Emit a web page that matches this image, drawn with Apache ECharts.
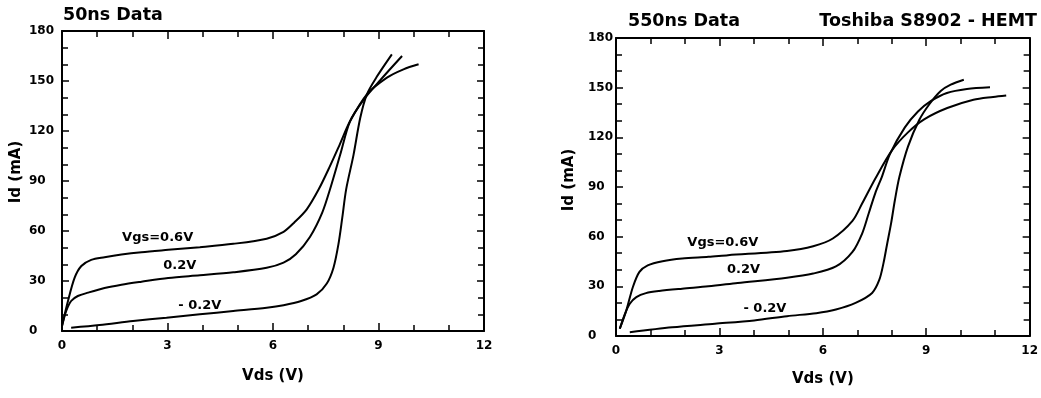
<!DOCTYPE html>
<html>
<head>
<meta charset="utf-8">
<script src="https://cdn.jsdelivr.net/npm/echarts@6/dist/echarts.min.js"></script>
<style>
html,body{margin:0;padding:0;background:#fff;}
#c{width:1041px;height:398px;}
</style>
</head>
<body>
<div id="c"></div>
<script>
// ---- Data (Vds in V, Id in mA) ----
var xTickLabels = [0, 3, 6, 9, 12];
var yTickLabels = [0, 30, 60, 90, 120, 150, 180];

// 50ns data (left panel)
var left06 = [[0,3],[0.17,18],[0.36,32],[0.55,39],[0.83,42.7],[1.21,44.3],[1.69,45.9],[2.26,47.3],[3.02,48.7],[3.92,50.3],[4.87,52.3],[5.82,55.4],[6.3,59.5],[6.6,65],[6.96,73],[7.3,85],[7.6,98],[7.9,112],[8.19,125.8],[8.67,142],[9.24,152],[9.71,157],[10.14,160]];
var left02 = [[0,3],[0.12,12],[0.26,18],[0.45,21],[0.74,23],[1.21,25.8],[1.69,27.8],[2.26,29.6],[3.02,31.8],[3.92,33.4],[4.87,35.2],[5.82,37.9],[6.3,41],[6.65,46],[7.05,56.4],[7.4,71],[7.65,87],[7.91,105.7],[8.19,125.8],[8.57,138.5],[9.05,150.5],[9.67,165]];
var leftM02 = [[0.26,2],[1.07,3.6],[2.02,6],[2.97,8],[3.92,10],[4.87,12],[5.82,14],[6.3,15.5],[6.8,18],[7.24,22],[7.53,28.5],[7.72,38],[7.86,52],[7.97,68],[8.08,85],[8.29,105.7],[8.48,127.8],[8.67,142],[8.95,152.5],[9.38,166]];

// 550ns data (right panel)
var right06 = [[0.11,4.4],[0.3,15.5],[0.49,29.6],[0.68,38.7],[0.92,42.7],[1.35,45.2],[1.92,46.8],[2.68,47.8],[3.25,48.8],[4.96,51.4],[5.72,54.2],[6.29,58.9],[6.86,69.5],[7.14,80],[7.52,95],[8.0,112],[8.47,123],[8.95,131],[9.61,137.7],[10.37,142.7],[10.94,144.4],[11.32,145.3]];
var right02 = [[0.11,4.4],[0.26,13.4],[0.4,19.5],[0.59,23.5],[0.87,25.9],[1.25,27.2],[1.92,28.6],[2.68,30],[3.53,32],[4.96,35.2],[5.72,37.7],[6.38,42],[6.86,50.8],[7.14,61.9],[7.33,74],[7.52,86.2],[7.71,96],[7.95,110],[8.38,126],[8.76,135.6],[9.14,142],[9.6,146.8],[10.18,149.2],[10.85,150.2]];
var rightM02 = [[0.4,2.3],[1.63,5.3],[2.87,7.4],[4.01,9.4],[4.96,12],[5.81,13.8],[6.38,16],[6.95,20],[7.43,26],[7.64,34],[7.76,44],[7.86,55],[7.98,68],[8.09,82],[8.22,96],[8.47,114.4],[8.8,130.6],[9.09,140],[9.42,148],[9.71,151.8],[10.09,154.8]];

// curve annotations: [text, Vds, Id]
var leftNotes = [["Vgs=0.6V", 2.72, 56.2], ["0.2V", 3.35, 39.3], ["- 0.2V", 3.92, 15.1]];
var rightNotes = [["Vgs=0.6V", 3.1, 56.7], ["0.2V", 3.7, 40.3], ["- 0.2V", 4.32, 16.7]];

var panelTitles = ["50ns Data", "550ns Data"];
var deviceTitle = "Toshiba S8902 - HEMT";
var xName = "Vds (V)";
var yName = "Id (mA)";

// ---- Chart ----
var FONT = '"DejaVu Sans", sans-serif';
var chart = echarts.init(document.getElementById('c'), null, {renderer: 'canvas'});

function xAxes(g, gap) {
  var common = {
    gridIndex: g, type: 'value',
    min: xTickLabels[0], max: xTickLabels[xTickLabels.length - 1],
    interval: xTickLabels[1] - xTickLabels[0],
    axisLine: {show: true, onZero: false, lineStyle: {color: '#000', width: 2}},
    axisTick: {show: true, inside: true, length: 8, lineStyle: {color: '#000', width: 1.5}},
    minorTick: {show: true, splitNumber: 3, length: 6, lineStyle: {color: '#000', width: 1.5}},
    splitLine: {show: false}, minorSplitLine: {show: false}
  };
  var bottom = Object.assign({}, common, {
    position: 'bottom',
    name: xName, nameLocation: 'middle', nameGap: gap,
    nameTextStyle: {fontFamily: FONT, fontWeight: 'bold', fontSize: 15, color: '#000'},
    axisLabel: {show: true, margin: 9, fontFamily: FONT, fontWeight: 'bold', fontSize: 12, color: '#000'}
  });
  var top = Object.assign({}, common, {position: 'top', axisLabel: {show: false}});
  return [bottom, top];
}
function yAxes(g, margin) {
  var common = {
    gridIndex: g, type: 'value',
    min: yTickLabels[0], max: yTickLabels[yTickLabels.length - 1],
    interval: yTickLabels[1] - yTickLabels[0],
    axisLine: {show: true, onZero: false, lineStyle: {color: '#000', width: 2}},
    axisTick: {show: true, inside: true, length: 7, lineStyle: {color: '#000', width: 1.5}},
    minorTick: {show: true, splitNumber: 3, length: 6, lineStyle: {color: '#000', width: 1.5}},
    splitLine: {show: false}, minorSplitLine: {show: false}
  };
  var left = Object.assign({}, common, {
    position: 'left',
    axisLabel: {show: true, align: 'left', margin: margin, fontFamily: FONT, fontWeight: 'bold', fontSize: 12, color: '#000'}
  });
  var right = Object.assign({}, common, {position: 'right', axisLabel: {show: false}});
  return [left, right];
}

function curve(data, xi, yi) {
  return {
    type: 'line', xAxisIndex: xi, yAxisIndex: yi, data: data,
    showSymbol: false, smooth: 0.3,
    lineStyle: {color: '#000', width: 2}, silent: true, animation: false
  };
}
function notes(arr, xi, yi) {
  return {
    type: 'scatter', xAxisIndex: xi, yAxisIndex: yi, symbolSize: 0, silent: true, animation: false,
    itemStyle: {opacity: 1, color: '#000'},
    data: arr.map(function (n) { return {value: [n[1], n[2]], name: n[0]}; }),
    label: {show: true, position: 'inside', formatter: function (p) { return p.name; },
      fontFamily: FONT, fontWeight: 'bold', fontSize: 13, color: '#000', opacity: 1,
      textBorderWidth: 0}
  };
}

var xa = xAxes(0, 38).concat(xAxes(1, 36));
var ya = yAxes(0, 33).concat(yAxes(1, 28));

var option = {
  backgroundColor: '#fff',
  animation: false,
  grid: [
    {left: 62, top: 31, width: 422, height: 300},
    {left: 616, top: 38, width: 421, height: 298}
  ],
  xAxis: xa,
  yAxis: ya,
  series: [
    curve(left06, 0, 0), curve(left02, 0, 0), curve(leftM02, 0, 0), notes(leftNotes, 0, 0),
    curve(right06, 2, 2), curve(right02, 2, 2), curve(rightM02, 2, 2), notes(rightNotes, 2, 2)
  ],
  graphic: [
    {type: 'text', x: 63, y: 15, style: {text: panelTitles[0], font: 'bold 17.5px ' + FONT, fill: '#000', verticalAlign: 'middle', align: 'left'}},
    {type: 'text', x: 628, y: 21, style: {text: panelTitles[1], font: 'bold 17.5px ' + FONT, fill: '#000', verticalAlign: 'middle', align: 'left'}},
    {type: 'text', x: 1037, y: 21, style: {text: deviceTitle, font: 'bold 17.5px ' + FONT, fill: '#000', verticalAlign: 'middle', align: 'right'}},
    {type: 'text', x: 16, y: 172, rotation: Math.PI / 2, style: {text: yName, font: 'bold 15px ' + FONT, fill: '#000', verticalAlign: 'middle', align: 'center'}},
    {type: 'text', x: 569, y: 180, rotation: Math.PI / 2, style: {text: yName, font: 'bold 15px ' + FONT, fill: '#000', verticalAlign: 'middle', align: 'center'}}
  ]
};
chart.setOption(option);
</script>
</body>
</html>
